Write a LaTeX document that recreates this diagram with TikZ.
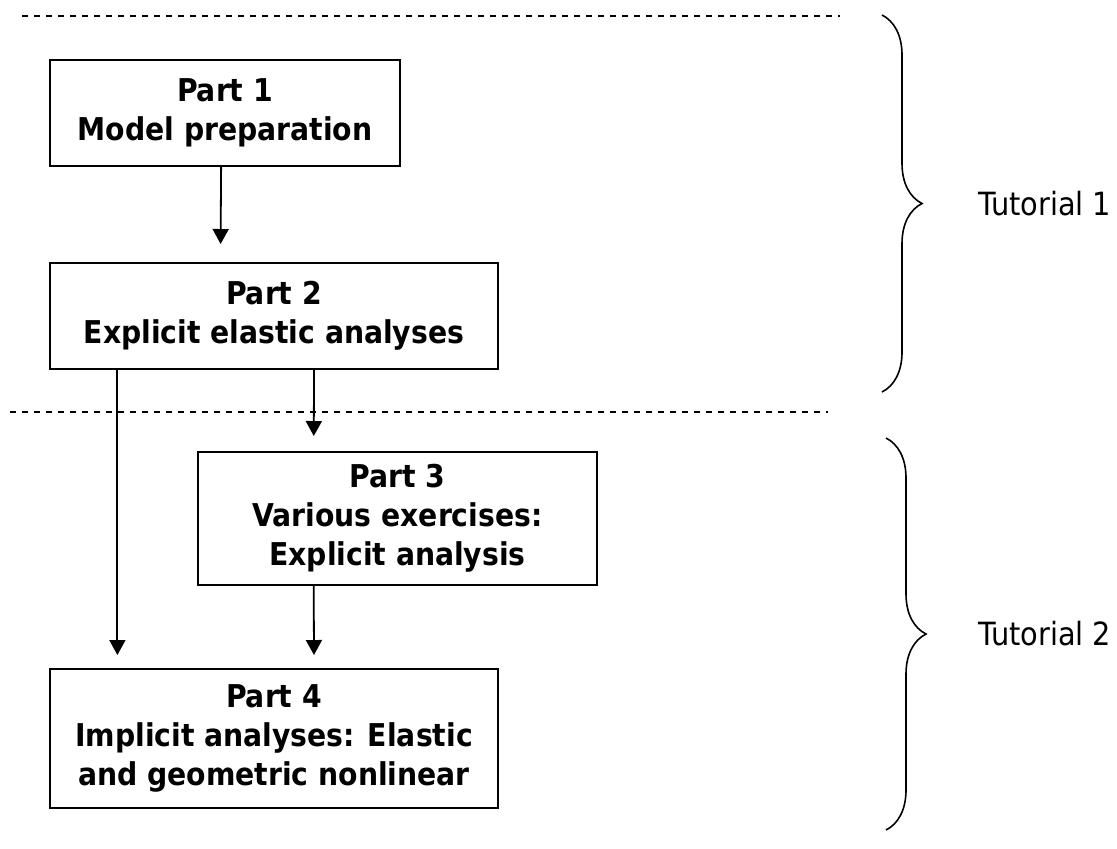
\documentclass[tikz,border=0pt]{standalone}
\usepackage{fontspec}
\setmainfont{DejaVu Sans Condensed}
\usetikzlibrary{calc}
\usetikzlibrary{arrows.meta}
\usetikzlibrary{decorations.pathreplacing}

\begin{document}
\begin{tikzpicture}[x=0.5pt,y=-0.5pt,
    part/.style={draw,line width=1pt,align=center,inner sep=0pt,
      font=\fontsize{15.7}{19.5}\selectfont\bfseries},
    flow/.style={-{Triangle[width=8pt,length=7.5pt]},line width=0.9pt},
    split/.style={dash pattern=on 3pt off 3pt,line width=0.75pt},
    group/.style={decorate,decoration={brace,amplitude=20pt},line width=0.8pt},
    tut/.style={anchor=west,font=\fontsize{16}{19}\selectfont}]
  \useasboundingbox (0,0) rectangle (1117,848);
  \node[part,minimum width=175pt,minimum height=53pt] (P1) at (225,113) {Part 1\\Model preparation};
  \node[part,minimum width=224pt,minimum height=53pt] (P2) at (274,316) {Part 2\\Explicit elastic analyses};
  \node[part,minimum width=199.5pt,minimum height=66.5pt] (P3) at (397.5,518.5) {Part 3\\Various exercises:\\Explicit analysis};
  \node[part,minimum width=224pt,minimum height=69.5pt] (P4) at (274,738.5) {Part 4\\Implicit analyses: Elastic\\and geometric nonlinear};
  \draw[flow,shorten >=9pt] ($(P1.south west)!0.489!(P1.south east)$) to ($(P2.north west)!0.381!(P2.north east)$);
  \draw[flow,shorten >=6.5pt] ($(P2.south west)!0.152!(P2.south east)$) to ($(P4.north west)!0.152!(P4.north east)$);
  \draw[flow,shorten >=7.5pt] ($(P2.south west)!0.589!(P2.south east)$) to ($(P3.north west)!0.291!(P3.north east)$);
  \draw[flow,shorten >=6.5pt] ($(P3.south west)!0.291!(P3.south east)$) to ($(P4.north west)!0.589!(P4.north east)$);
  % session boundaries
  \coordinate (L1a) at (22,16);
  \coordinate (L1b) at (840,16);
  \coordinate (L2a) at (10,412);
  \coordinate (L2b) at (828,412);
  \draw[split] (L1a) -- (L1b);
  \draw[split] (L2a) -- (L2b);
  % braces
  \coordinate (B1a) at (882,15);
  \coordinate (B1b) at (882,392);
  \coordinate (B2a) at (886,438);
  \coordinate (B2b) at (886,830);
  \draw[group] (B1a) -- node[tut,xshift=44.5pt] (T1) {Tutorial 1} (B1b);
  \draw[group] (B2a) -- node[tut,xshift=42.5pt] (T2) {Tutorial 2} (B2b);
\end{tikzpicture}
\end{document}
